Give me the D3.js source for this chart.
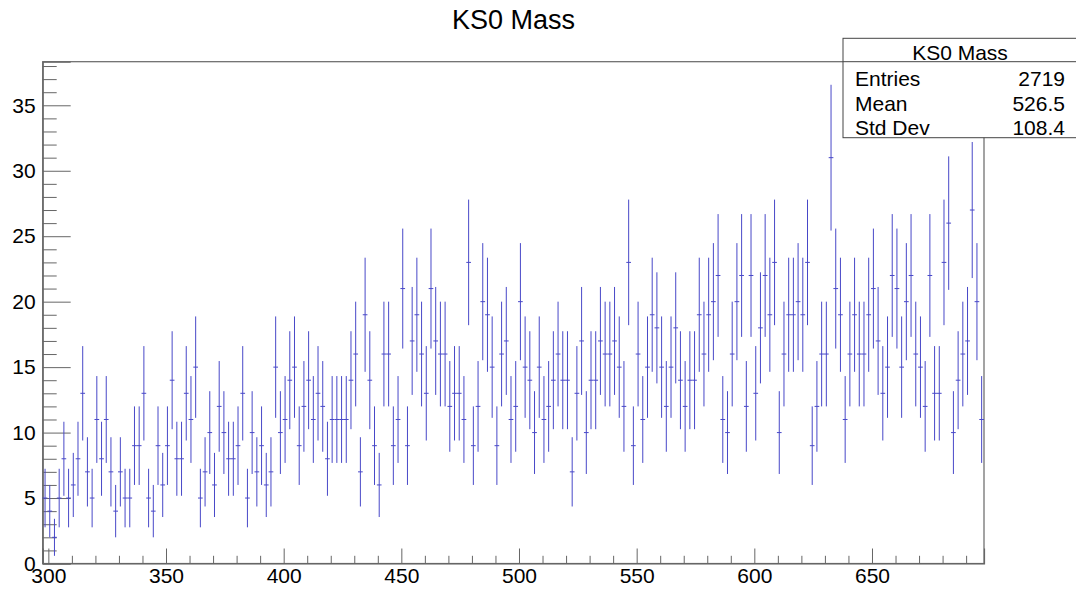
<!DOCTYPE html>
<html>
<head>
<meta charset="utf-8">
<script src="https://cdn.jsdelivr.net/npm/d3@7"></script>
<style>
  html, body { margin: 0; padding: 0; background: #fff; }
  svg { display: block; }
  text { font-family: "Liberation Sans", Arial, Helvetica, sans-serif; fill: #000; }
</style>
</head>
<body>
<svg id="chart" width="1076" height="589"></svg>
<script>
// ---- data ----
const chartTitle = "KS0 Mass";
const binLow = 297.6;      // low edge of first bin
const binWidth = 2;        // bin width
const counts = [
  5,4,2,5,8,5,6,8,13,7,5,11,8,11,7,4,7,5,5,9,9,13,5,4,9,6,9,14,8,8,13,11,15,5,
  7,10,6,12,10,8,8,9,13,5,10,7,9,6,7,15,10,11,14,15,9,12,14,11,13,12,8,11,11,11,11,14,16,7,
  19,14,9,6,16,16,9,11,21,9,17,19,16,13,21,17,16,16,12,13,13,11,23,9,12,20,19,15,9,16,17,11,12,20,
  15,14,10,15,11,12,14,16,14,14,7,13,17,10,14,14,17,16,16,17,15,12,23,9,16,11,15,19,18,15,12,15,18,14,
  12,14,14,19,16,19,20,22,11,10,16,20,22,12,22,13,18,22,19,23,10,16,19,19,20,19,23,9,12,16,16,31,21,19,
  11,16,19,16,16,19,21,17,13,15,22,21,15,20,22,16,15,12,22,13,13,23,26,10,14,16,17,27,20,11
];
const xTickLabels = [300, 350, 400, 450, 500, 550, 600, 650];
const yTickLabels = [0, 5, 10, 15, 20, 25, 30, 35];
const statNames = ["Entries", "Mean", "Std Dev"];
const statValues = ["2719", "526.5", "108.4"];

// ---- layout ----
const svg = d3.select("#chart");
const frame = { left: 42.7, right: 984, top: 61.7, bottom: 563.5 };
const xMax = binLow + binWidth * counts.length;
const yMax = 38.33;

const x = d3.scaleLinear().domain([binLow, xMax]).range([frame.left, frame.right]);
const y = d3.scaleLinear().domain([0, yMax]).range([frame.bottom, frame.top]);

const axisColor = "#666";
const histColor = "#4848c8";

// title
svg.append("text")
  .attr("x", 513.5).attr("y", 29)
  .attr("text-anchor", "middle")
  .style("font-size", "27px")
  .text(chartTitle);

// frame
svg.append("rect")
  .attr("x", frame.left).attr("y", frame.top)
  .attr("width", frame.right - frame.left)
  .attr("height", frame.bottom - frame.top)
  .attr("fill", "none").attr("stroke", axisColor).attr("stroke-width", 1.2);

// x axis (ticks pointing up inside frame)
const xMajor = d3.axisBottom(x).tickValues(xTickLabels).tickSize(-15).tickPadding(4.5).tickFormat(d3.format("d"));
const xMinorVals = d3.range(300, xMax, 10).filter(v => !xTickLabels.includes(v));
const gx = svg.append("g").attr("transform", `translate(0,${frame.bottom})`).call(xMajor);
gx.select(".domain").attr("stroke", axisColor).attr("stroke-width", 1.2);
gx.selectAll(".tick line").attr("stroke", axisColor);
gx.selectAll(".tick text").style("font-size", "21px").attr("fill", "#000");
const gxm = svg.append("g").attr("transform", `translate(0,${frame.bottom})`)
  .call(d3.axisBottom(x).tickValues(xMinorVals).tickSize(-7.7).tickFormat(""));
gxm.select(".domain").remove();
gxm.selectAll(".tick line").attr("stroke", axisColor);

// y axis (ticks pointing right inside frame)
const yMajor = d3.axisLeft(y).tickValues(yTickLabels).tickSize(-28).tickPadding(7).tickFormat(d3.format("d"));
const yMinorVals = d3.range(0, yMax, 1).filter(v => !yTickLabels.includes(v));
const gy = svg.append("g").attr("transform", `translate(${frame.left},0)`).call(yMajor);
gy.select(".domain").attr("stroke", axisColor).attr("stroke-width", 1.2);
gy.selectAll(".tick line").attr("stroke", axisColor);
gy.selectAll(".tick text").style("font-size", "21px").attr("fill", "#000");
const gym = svg.append("g").attr("transform", `translate(${frame.left},0)`)
  .call(d3.axisLeft(y).tickValues(yMinorVals).tickSize(-14).tickFormat(""));
gym.select(".domain").remove();
gym.selectAll(".tick line").attr("stroke", axisColor);

// histogram error bars
const bins = counts.map((c, i) => ({
  lo: binLow + i * binWidth,
  hi: binLow + (i + 1) * binWidth,
  mid: binLow + (i + 0.5) * binWidth,
  c: c,
  e: Math.sqrt(c)
}));
const gh = svg.append("g").attr("stroke", histColor).attr("stroke-width", 1);
gh.selectAll("line.v").data(bins).join("line").attr("class", "v")
  .attr("x1", d => x(d.mid)).attr("x2", d => x(d.mid))
  .attr("y1", d => y(d.c + d.e)).attr("y2", d => y(Math.max(0, d.c - d.e)));
gh.selectAll("line.h").data(bins).join("line").attr("class", "h")
  .attr("x1", d => x(d.lo)).attr("x2", d => x(d.hi))
  .attr("y1", d => y(d.c)).attr("y2", d => y(d.c));

// stats box
const box = { left: 843, right: 1077, top: 38.3, sep: 61.7, bottom: 137.7 };
svg.append("rect")
  .attr("x", box.left).attr("y", box.top)
  .attr("width", box.right - box.left).attr("height", box.bottom - box.top)
  .attr("fill", "#fff").attr("stroke", "#444").attr("stroke-width", 1);
svg.append("line")
  .attr("x1", box.left).attr("x2", box.right)
  .attr("y1", box.sep).attr("y2", box.sep)
  .attr("stroke", "#444").attr("stroke-width", 1);
svg.append("text")
  .attr("x", (box.left + box.right) / 2).attr("y", 59.5)
  .attr("text-anchor", "middle").style("font-size", "21px")
  .text(chartTitle);
const rowBase = [85.5, 110.5, 135];
statNames.forEach((n, i) => {
  svg.append("text").attr("x", 855).attr("y", rowBase[i]).style("font-size", "21px").text(n);
  svg.append("text").attr("x", 1065).attr("y", rowBase[i]).attr("text-anchor", "end")
    .style("font-size", "21px").text(statValues[i]);
});
</script>
</body>
</html>
